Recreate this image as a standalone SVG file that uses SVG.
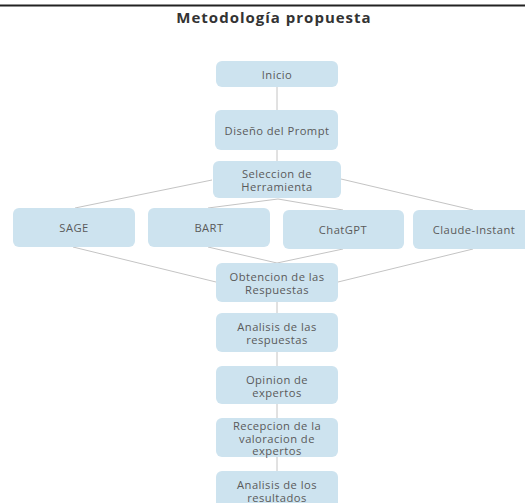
<svg xmlns="http://www.w3.org/2000/svg" width="525" height="503" viewBox="0 0 525 503">
<style>
.n rect{fill:#cde3ef;}
.n text{font-family:"Open Sans",sans-serif;font-size:11.2px;letter-spacing:0.45px;fill:#5a5a5a;text-anchor:middle;dominant-baseline:central;}
.c line{stroke:#c4c4c4;stroke-width:1;}
.t{font-family:"Open Sans",sans-serif;font-size:15px;letter-spacing:1px;font-weight:bold;fill:#333;text-anchor:middle;}
</style>
<rect width="525" height="503" fill="#fff"/>
<line x1="0" y1="5.5" x2="525" y2="5.5" stroke="#222" stroke-width="2"/>
<text class="t" x="274" y="23">Metodología propuesta</text>
<g class="c">
<line x1="277" y1="87" x2="277" y2="110"/>
<line x1="277" y1="150" x2="277" y2="161"/>
<line x1="212" y1="180" x2="75" y2="208"/>
<line x1="278" y1="199" x2="208" y2="208"/>
<line x1="278" y1="199" x2="343" y2="210"/>
<line x1="341" y1="179" x2="473" y2="210"/>
<line x1="73" y1="247" x2="216" y2="282"/>
<line x1="208" y1="247" x2="277" y2="263"/>
<line x1="343" y1="249" x2="277" y2="263"/>
<line x1="473" y1="249" x2="338" y2="282"/>
<line x1="277" y1="302" x2="277" y2="313"/>
<line x1="277" y1="352" x2="277" y2="366"/>
<line x1="277" y1="404" x2="277" y2="418"/>
<line x1="277" y1="457" x2="277" y2="471"/>
</g>
<g id="inicio" class="n"><rect x="216" y="61" width="122" height="26" rx="6"/><text x="277" y="74">Inicio</text></g>
<g id="diseno" class="n"><rect x="215" y="110" width="123" height="40" rx="6"/><text x="277" y="130">Diseño del Prompt</text></g>
<g id="seleccion" class="n"><rect x="213" y="161" width="128" height="37" rx="6"/><text x="277" y="173">Seleccion de</text><text x="277" y="186.5">Herramienta</text></g>
<g id="sage" class="n"><rect x="13" y="208" width="122" height="39" rx="6"/><text x="74" y="227">SAGE</text></g>
<g id="bart" class="n"><rect x="148" y="208" width="122" height="39" rx="6"/><text x="209" y="227">BART</text></g>
<g id="chatgpt" class="n"><rect x="283" y="210" width="121" height="39" rx="6"/><text x="343" y="229">ChatGPT</text></g>
<g id="claude" class="n"><rect x="413" y="210" width="122" height="39" rx="6"/><text x="474" y="229">Claude-Instant</text></g>
<g id="obtencion" class="n"><rect x="216" y="263" width="122" height="39" rx="6"/><text x="277" y="276">Obtencion de las</text><text x="277" y="289">Respuestas</text></g>
<g id="analisis1" class="n"><rect x="216" y="313" width="122" height="39" rx="6"/><text x="277" y="326">Analisis de las</text><text x="277" y="339">respuestas</text></g>
<g id="opinion" class="n"><rect x="216" y="366" width="122" height="38" rx="6"/><text x="277" y="379">Opinion de</text><text x="277" y="392">expertos</text></g>
<g id="recepcion" class="n"><rect x="216" y="418" width="122" height="39" rx="6"/><text x="277" y="425.5">Recepcion de la</text><text x="277" y="438">valoracion de</text><text x="277" y="450.5">expertos</text></g>
<g id="analisis2" class="n"><rect x="216" y="471" width="122" height="40" rx="6"/><text x="277" y="484">Analisis de los</text><text x="277" y="497">resultados</text></g>
</svg>
